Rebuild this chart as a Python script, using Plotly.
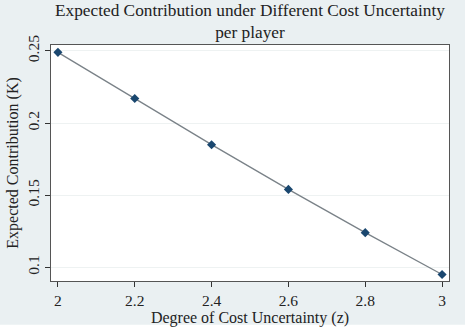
import plotly.graph_objects as go

z_values = [2.0, 2.2, 2.4, 2.6, 2.8, 3.0]
contribution = [0.249, 0.217, 0.185, 0.154, 0.124, 0.095]
x_ticks = [2, 2.2, 2.4, 2.6, 2.8, 3]
x_tick_labels = ["2", "2.2", "2.4", "2.6", "2.8", "3"]
y_ticks = [0.1, 0.15, 0.2, 0.25]
y_tick_labels = ["0.1", "0.15", "0.2", "0.25"]
title_lines = ["Expected Contribution under Different Cost Uncertainty", "per player"]

FONT = "Liberation Serif, Times New Roman, serif"
BG = "#eaf0f2"

fig = go.Figure()
fig.add_trace(go.Scatter(
    x=z_values, y=contribution, mode="lines+markers",
    line=dict(color="#7a8288", width=1.3),
    marker=dict(symbol="diamond", size=7, color="#1a476f"),
    showlegend=False,
))

fig.update_layout(
    width=465, height=336,
    margin=dict(l=46, r=16, t=45, b=51),
    paper_bgcolor=BG, plot_bgcolor="white",
    font=dict(family=FONT, size=15, color="#222222"),
    annotations=[
        dict(text="<br>".join(title_lines), xref="paper", yref="paper", x=0.5, y=1.098,
             xanchor="center", yanchor="middle", showarrow=False,
             font=dict(family=FONT, size=17.3, color="#222222")),
    ],
    xaxis=dict(
        range=[1.982, 3.018], tickvals=x_ticks, ticktext=x_tick_labels,
        ticks="outside", ticklen=5, tickcolor="#333333",
        showgrid=False, zeroline=False,
        showline=True, linecolor="#555555", linewidth=1, mirror=True,
        title=dict(text="Degree of Cost Uncertainty (z)", standoff=4,
                   font=dict(family=FONT, size=16)),
        tickfont=dict(family=FONT, size=15.5),
    ),
    yaxis=dict(
        range=[0.0905, 0.2541], tickvals=y_ticks, ticktext=y_tick_labels,
        ticks="outside", ticklen=5, tickcolor="#333333", tickangle=-90,
        showgrid=True, gridcolor="#eef2f2", gridwidth=1, zeroline=False,
        showline=True, linecolor="#555555", linewidth=1, mirror=True,
        title=dict(text="Expected Contribution (K)", standoff=2,
                   font=dict(family=FONT, size=16)),
        tickfont=dict(family=FONT, size=15.5),
    ),
    shapes=[dict(type="rect", xref="paper", yref="paper",
                 x0=-0.2, x1=1.1, y0=-0.185, y1=-0.3,
                 fillcolor="white", line=dict(width=0), layer="below")],
)

fig.write_html("out.html")
